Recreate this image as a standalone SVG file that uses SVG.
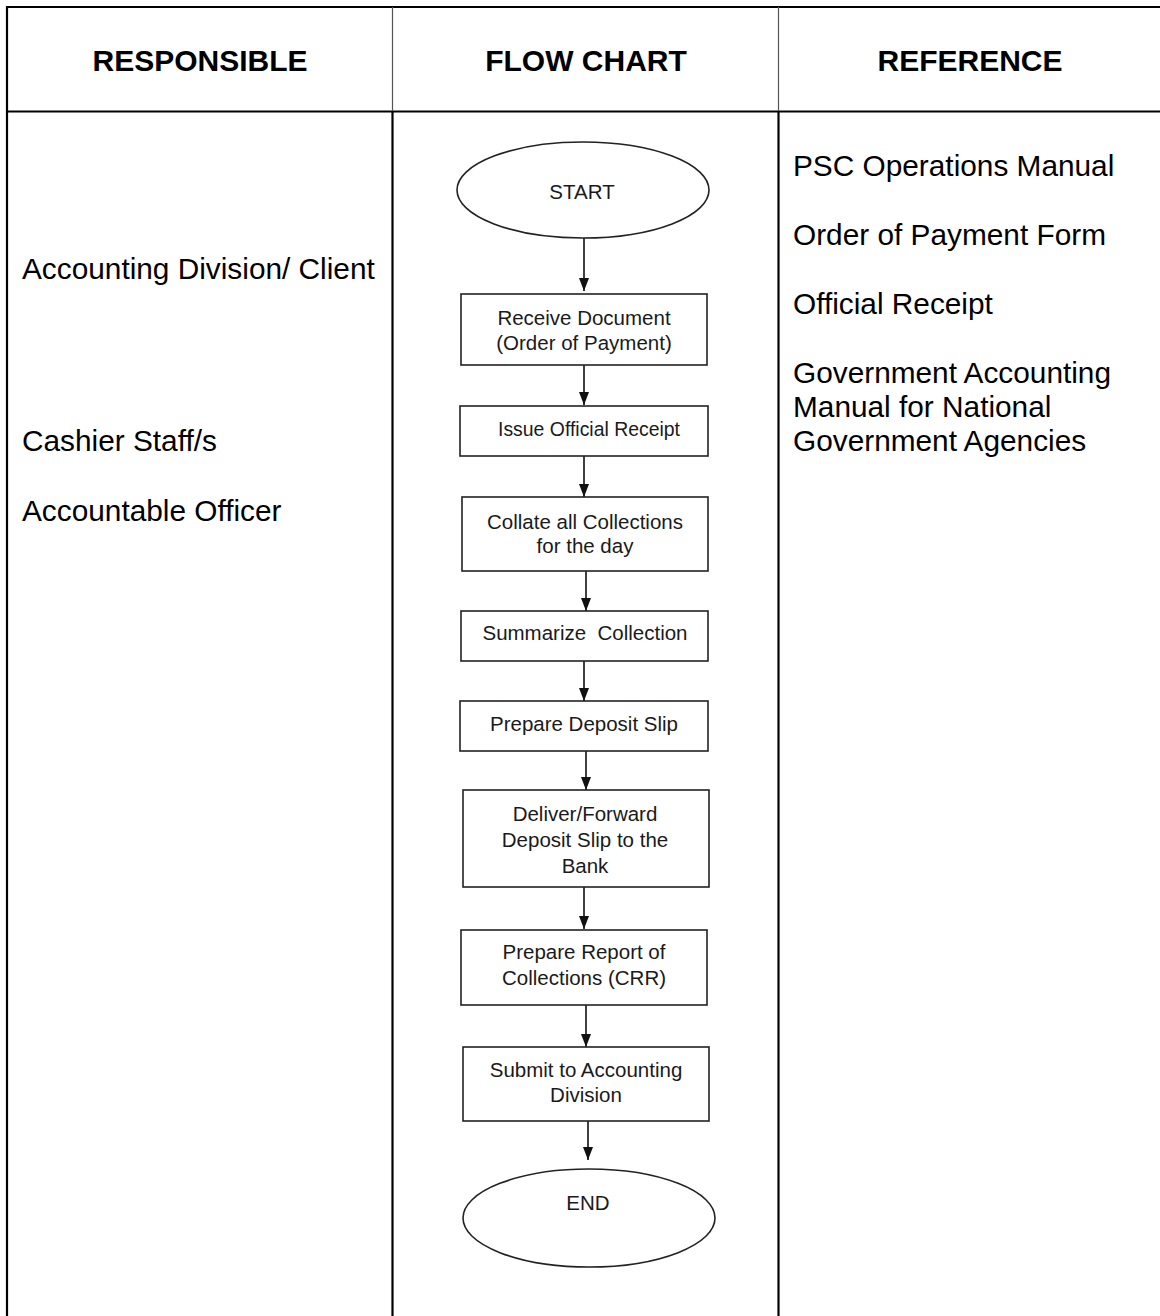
<svg xmlns="http://www.w3.org/2000/svg" width="1160" height="1316" viewBox="0 0 1160 1316">
<style>
.hd{font-family:"Liberation Sans",Arial,sans-serif;font-weight:bold;font-size:30px;fill:#000;text-anchor:middle}
.col{font-family:"Liberation Sans",Arial,sans-serif;font-size:29.8px;fill:#000}
.box{fill:#fff;stroke:#222;stroke-width:1.6}
.ft{font-family:"Liberation Sans",Arial,sans-serif;font-size:20.5px;fill:#1a1a1a;text-anchor:middle}
.grid{stroke:#000;stroke-width:2.2;fill:none}
.conn line{stroke:#111;stroke-width:1.6}
</style>
<defs>
<marker id="ah" markerUnits="userSpaceOnUse" markerWidth="13" markerHeight="10" refX="13" refY="5" orient="auto" viewBox="0 0 13 10">
<path d="M0,0 L13,5 L0,10 z" fill="#111"/>
</marker>
</defs>
<rect width="1160" height="1316" fill="#fff"/>
<g id="table">
<line class="grid" x1="7" y1="7" x2="1160" y2="7"/>
<line class="grid" x1="7" y1="111.5" x2="1160" y2="111.5"/>
<line class="grid" x1="7" y1="6" x2="7" y2="1316"/>
<line x1="392.5" y1="7" x2="392.5" y2="111" stroke="#555" stroke-width="1.2"/>
<line x1="778.5" y1="7" x2="778.5" y2="111" stroke="#555" stroke-width="1.2"/>
<line class="grid" x1="392.5" y1="111" x2="392.5" y2="1316"/>
<line class="grid" x1="778.5" y1="111" x2="778.5" y2="1316"/>
<text class="hd" x="200" y="71">RESPONSIBLE</text>
<text class="hd" x="586" y="71">FLOW CHART</text>
<text class="hd" x="970" y="71">REFERENCE</text>
</g>
<g id="responsible">
<text class="col" x="22" y="279">Accounting Division/ Client</text>
<text class="col" x="22" y="451">Cashier Staff/s</text>
<text class="col" x="22" y="521">Accountable Officer</text>
</g>
<g id="reference">
<text class="col" x="793" y="176">PSC Operations Manual</text>
<text class="col" x="793" y="245">Order of Payment Form</text>
<text class="col" x="793" y="314">Official Receipt</text>
<text class="col" x="793" y="383">Government Accounting</text>
<text class="col" x="793" y="417">Manual for National</text>
<text class="col" x="793" y="451">Government Agencies</text>
</g>
<g id="connectors" class="conn">
<line x1="584" y1="238" x2="584" y2="291" marker-end="url(#ah)"/>
<line x1="584" y1="365" x2="584" y2="405" marker-end="url(#ah)"/>
<line x1="584" y1="456" x2="584" y2="497" marker-end="url(#ah)"/>
<line x1="586" y1="571" x2="586" y2="611" marker-end="url(#ah)"/>
<line x1="584" y1="661" x2="584" y2="701" marker-end="url(#ah)"/>
<line x1="586" y1="751" x2="586" y2="790" marker-end="url(#ah)"/>
<line x1="584" y1="887" x2="584" y2="929" marker-end="url(#ah)"/>
<line x1="586" y1="1005" x2="586" y2="1047" marker-end="url(#ah)"/>
<line x1="588" y1="1121" x2="588" y2="1160" marker-end="url(#ah)"/>
</g>
<g id="start">
<ellipse class="box" cx="583" cy="190" rx="126" ry="48"/>
<text class="ft" x="582" y="199">START</text>
</g>
<g id="receive">
<rect class="box" x="461" y="294" width="246" height="71"/>
<text class="ft" x="584" y="325">Receive Document</text>
<text class="ft" x="584" y="350">(Order of Payment)</text>
</g>
<g id="issue">
<rect class="box" x="460" y="406" width="248" height="50"/>
<text class="ft" x="589" y="436" textLength="182" lengthAdjust="spacingAndGlyphs">Issue Official Receipt</text>
</g>
<g id="collate">
<rect class="box" x="462" y="497" width="246" height="74"/>
<text class="ft" x="585" y="529">Collate all Collections</text>
<text class="ft" x="585" y="553">for the day</text>
</g>
<g id="summarize">
<rect class="box" x="461" y="611" width="247" height="50"/>
<text class="ft" x="585" y="640" xml:space="preserve">Summarize  Collection</text>
</g>
<g id="prepare-deposit">
<rect class="box" x="460" y="701" width="248" height="50"/>
<text class="ft" x="584" y="731">Prepare Deposit Slip</text>
</g>
<g id="deliver">
<rect class="box" x="463" y="790" width="246" height="97"/>
<text class="ft" x="585" y="821">Deliver/Forward</text>
<text class="ft" x="585" y="847">Deposit Slip to the</text>
<text class="ft" x="585" y="873">Bank</text>
</g>
<g id="prepare-report">
<rect class="box" x="461" y="930" width="246" height="75"/>
<text class="ft" x="584" y="959">Prepare Report of</text>
<text class="ft" x="584" y="985">Collections (CRR)</text>
</g>
<g id="submit">
<rect class="box" x="463" y="1047" width="246" height="74"/>
<text class="ft" x="586" y="1077">Submit to Accounting</text>
<text class="ft" x="586" y="1102">Division</text>
</g>
<g id="end">
<ellipse class="box" cx="589" cy="1218" rx="126" ry="49"/>
<text class="ft" x="588" y="1210">END</text>
</g>
</svg>
